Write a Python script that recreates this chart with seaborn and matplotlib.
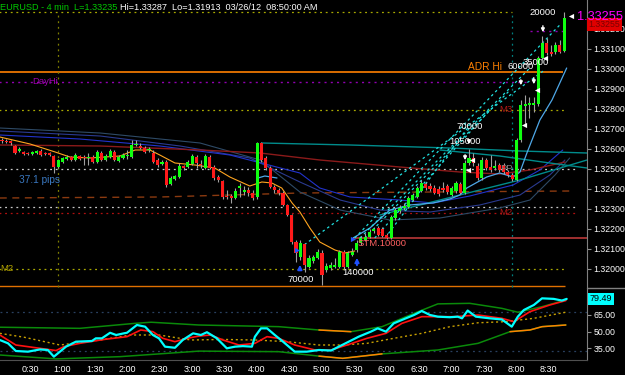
import numpy as np
import pandas as pd
import matplotlib
matplotlib.use("Agg")
import matplotlib.pyplot as plt
import matplotlib.transforms as mtrans
from matplotlib.lines import Line2D
import seaborn as sns

# ---------------- data ----------------
opens = [1.32645,1.32640,1.32640,1.32615,1.32590,1.32585,1.32580,1.32575,1.32580,1.32590,
         1.32580,1.32580,1.32565,1.32510,1.32535,1.32550,1.32560,1.32545,1.32565,1.32560,
         1.32555,1.32560,1.32535,1.32580,1.32545,1.32560,1.32585,1.32540,1.32555,1.32565,
         1.32560,1.32620,1.32615,1.32605,1.32595,1.32580,1.32545,1.32525,1.32535,1.32425,
         1.32450,1.32460,1.32515,1.32510,1.32525,1.32560,1.32525,1.32505,1.32560,1.32510,
         1.32460,1.32440,1.32365,1.32365,1.32355,1.32405,1.32385,1.32395,1.32380,1.32360,
         1.32630,1.32555,1.32505,1.32410,1.32395,1.32380,1.32320,1.32270,1.32135,1.32060,
         1.32125,1.32010,1.32040,1.32055,1.32080,1.31995,1.32005,1.32010,1.32010,1.32085,
         1.32010,1.32070,1.32095,1.32130,1.32145,1.32160,1.32190,1.32205,1.32200,1.32170,
         1.32155,1.32255,1.32290,1.32305,1.32310,1.32345,1.32360,1.32390,1.32425,1.32415,
         1.32405,1.32400,1.32405,1.32415,1.32370,1.32390,1.32425,1.32380,1.32530,1.32555,
         1.32515,1.32455,1.32545,1.32510,1.32505,1.32520,1.32520,1.32485,1.32470,1.32445,
         1.32645,1.32815,1.32820,1.32820,1.32825,1.33055,1.33130,1.33085,1.33085,1.33120,
         1.33090]
highs = [1.32655,1.32650,1.32645,1.32620,1.32610,1.32590,1.32585,1.32590,1.32595,1.32600,
         1.32585,1.32585,1.32570,1.32550,1.32560,1.32570,1.32565,1.32580,1.32570,1.32570,
         1.32580,1.32570,1.32595,1.32590,1.32575,1.32600,1.32595,1.32570,1.32580,1.32595,
         1.32645,1.32645,1.32630,1.32615,1.32610,1.32595,1.32555,1.32545,1.32545,1.32465,
         1.32470,1.32530,1.32520,1.32545,1.32575,1.32570,1.32545,1.32575,1.32570,1.32520,
         1.32470,1.32445,1.32395,1.32375,1.32405,1.32430,1.32415,1.32410,1.32395,1.32635,
         1.32635,1.32565,1.32515,1.32420,1.32405,1.32390,1.32325,1.32275,1.32145,1.32145,
         1.32130,1.32070,1.32070,1.32100,1.32095,1.32030,1.32035,1.32055,1.32095,1.32095,
         1.32090,1.32105,1.32145,1.32165,1.32180,1.32200,1.32210,1.32215,1.32210,1.32180,
         1.32270,1.32305,1.32320,1.32330,1.32365,1.32380,1.32415,1.32445,1.32435,1.32430,
         1.32420,1.32415,1.32435,1.32425,1.32415,1.32440,1.32435,1.32545,1.32600,1.32580,
         1.32530,1.32560,1.32555,1.32570,1.32545,1.32530,1.32530,1.32495,1.32480,1.32655,
         1.32845,1.32870,1.32860,1.32860,1.33065,1.33165,1.33155,1.33120,1.33135,1.33145,
         1.33285]
lows = [1.32630,1.32630,1.32620,1.32575,1.32585,1.32570,1.32570,1.32570,1.32575,1.32565,
        1.32570,1.32565,1.32480,1.32505,1.32530,1.32545,1.32540,1.32540,1.32545,1.32520,
        1.32520,1.32530,1.32530,1.32540,1.32540,1.32555,1.32540,1.32535,1.32550,1.32550,
        1.32555,1.32615,1.32600,1.32580,1.32585,1.32530,1.32510,1.32520,1.32410,1.32420,
        1.32445,1.32455,1.32495,1.32505,1.32520,1.32505,1.32505,1.32500,1.32500,1.32445,
        1.32435,1.32350,1.32350,1.32330,1.32350,1.32360,1.32370,1.32365,1.32345,1.32350,
        1.32535,1.32495,1.32405,1.32380,1.32370,1.32315,1.32265,1.32125,1.32035,1.32045,
        1.31985,1.32005,1.32030,1.32050,1.31920,1.31985,1.31995,1.32005,1.32005,1.32000,
        1.32005,1.32065,1.32085,1.32120,1.32140,1.32155,1.32180,1.32165,1.32160,1.32150,
        1.32150,1.32245,1.32280,1.32295,1.32305,1.32340,1.32355,1.32385,1.32395,1.32390,
        1.32375,1.32365,1.32385,1.32375,1.32365,1.32380,1.32375,1.32375,1.32520,1.32515,
        1.32445,1.32445,1.32495,1.32485,1.32495,1.32485,1.32475,1.32460,1.32440,1.32440,
        1.32635,1.32720,1.32755,1.32785,1.32815,1.33045,1.33070,1.33065,1.33075,1.33080,
        1.33085]
closes = [1.32640,1.32635,1.32630,1.32580,1.32600,1.32575,1.32575,1.32585,1.32590,1.32570,
          1.32575,1.32570,1.32510,1.32545,1.32555,1.32560,1.32545,1.32570,1.32550,1.32555,
          1.32560,1.32535,1.32585,1.32545,1.32565,1.32590,1.32545,1.32560,1.32570,1.32570,
          1.32620,1.32625,1.32605,1.32585,1.32600,1.32535,1.32520,1.32535,1.32420,1.32455,
          1.32465,1.32515,1.32505,1.32535,1.32565,1.32530,1.32520,1.32565,1.32505,1.32455,
          1.32445,1.32360,1.32360,1.32355,1.32390,1.32415,1.32395,1.32380,1.32355,1.32630,
          1.32545,1.32505,1.32410,1.32395,1.32380,1.32320,1.32270,1.32135,1.32080,1.32130,
          1.32020,1.32055,1.32060,1.32085,1.31970,1.32015,1.32020,1.32020,1.32085,1.32010,
          1.32080,1.32085,1.32130,1.32155,1.32160,1.32185,1.32200,1.32170,1.32165,1.32155,
          1.32260,1.32295,1.32305,1.32315,1.32355,1.32370,1.32405,1.32430,1.32405,1.32400,
          1.32380,1.32375,1.32395,1.32385,1.32405,1.32430,1.32380,1.32530,1.32555,1.32530,
          1.32455,1.32545,1.32505,1.32495,1.32515,1.32495,1.32485,1.32470,1.32450,1.32645,
          1.32820,1.32825,1.32830,1.32830,1.33055,1.33130,1.33080,1.33075,1.33120,1.33085,
          1.33255]

time_labels = ["0:30", "1:00", "1:30", "2:00", "2:30", "3:00", "3:30", "4:00", "4:30",
               "5:00", "5:30", "6:00", "6:30", "7:00", "7:30", "8:00", "8:30"]
time_minutes = [30, 60, 90, 120, 150, 180, 210, 240, 270, 300, 330, 360, 390, 420, 450, 480, 510]
first_bar_minute = 4.2
bar_minutes = 4
price_ticks = [1.320, 1.321, 1.322, 1.323, 1.324, 1.325, 1.326, 1.327, 1.328, 1.329, 1.330, 1.331, 1.332]
osc_ticks = [35, 50, 65]
last_price = 1.33255
osc_last = 79.49

# horizontal levels: (price, start bar, end bar)
hi_level = (1.33287, -1, 117.9)
adr_hi = (1.32985, -1, 129.7)
day_hi = (1.32935, -1, 122.1)
day_hi_short = (1.33190, 122.1, 130.6)
m3_level = (1.32795, -1, 130.6)
pp_level = (1.32500, -1, 132.5)
s_level = (1.32310, -1, 132.5)
m2_level = (1.32280, -1, 132.5)
stm_level = (1.32155, 81.2, 136)
low_grid = (1.32000, -1, 130.6)
lo_level = (1.31913, -1, 130.2)
brown_x = [-0.5, 36.5, 68.9, 131.3]
brown_y = [1.32355, 1.32360, 1.32380, 1.32390]
vline_bars = [12.9, 117.9]

# moving averages (bar index, price)
ema_x = [-0.5, 6.5, 12.3, 15.7, 20.3, 27.3, 30.8, 34.2, 36.5, 40.0, 44.6, 49.2, 52.7, 57.3,
         60.1, 62.4, 64.7, 67.1, 68.9, 71.2, 73.5, 77.0, 79.3, 81.6]
ema_y = [1.32660, 1.32625, 1.32585, 1.32560, 1.32555, 1.32565, 1.32595, 1.32595, 1.32570,
         1.32530, 1.32520, 1.32505, 1.32460, 1.32415, 1.32435, 1.32430, 1.32405, 1.32330,
         1.32285, 1.32205, 1.32135, 1.32095, 1.32080, 1.32090]
sky_x = [81.2, 85.1, 89.7, 94.3, 99.7, 103.6, 105.9, 107.5, 112.1, 115.1, 118.2, 119.8,
         121.4, 124.4, 127.2, 130.6]
sky_y = [1.32155, 1.32205, 1.32295, 1.32320, 1.32330, 1.32350, 1.32370, 1.32405, 1.32460,
         1.32480, 1.32460, 1.32485, 1.32580, 1.32745, 1.32845, 1.33005]
sky2_x = [59.2, 60.8, 63.6]
sky2_y = [1.32455, 1.32465, 1.32455]
blue_x = [-0.5, 18.0, 36.5, 52.7, 68.9, 73.5, 80.5, 92.0, 99.7, 108.2, 118.2, 124.4, 129.7]
blue_y = [1.32670, 1.32650, 1.32615, 1.32570, 1.32480, 1.32405, 1.32360, 1.32345, 1.32330,
          1.32365, 1.32420, 1.32495, 1.32595]
navy_x = [-0.5, 22.7, 41.2, 57.3, 68.9, 78.2, 87.4, 99.0, 110.5, 119.8, 126.7, 130.2]
navy_y = [1.32690, 1.32665, 1.32615, 1.32555, 1.32435, 1.32345, 1.32295, 1.32285, 1.32320,
          1.32370, 1.32470, 1.32545]
slate_x = [-0.5, 22.7, 45.8, 59.7, 68.9, 78.2, 89.7, 101.3, 115.1, 122.1, 127.9, 131.3]
slate_y = [1.32705, 1.32680, 1.32630, 1.32545, 1.32385, 1.32295, 1.32245, 1.32255, 1.32305,
           1.32345, 1.32470, 1.32555]
dred_x = [-0.5, 22.7, 45.8, 59.7, 73.5, 92.0, 105.9, 115.1, 122.1, 130.2]
dred_y = [1.32620, 1.32615, 1.32595, 1.32580, 1.32545, 1.32510, 1.32485, 1.32475, 1.32495, 1.32535]
teal1_x = [60.1, 80.5, 103.6, 119.8, 135.3]
teal1_y = [1.32630, 1.32620, 1.32605, 1.32590, 1.32580]
teal2_x = [101.3, 115.1, 126.7, 135.3]
teal2_y = [1.32595, 1.32565, 1.32530, 1.32505]
teal3_x = [87.4, 101.3, 110.5, 119.8, 135.3]
teal3_y = [1.32270, 1.32345, 1.32395, 1.32445, 1.32545]
# dashed fan lines: (x0, x1, y0, y1)
fan_lines = [(68.9, 125.5, 1.32105, 1.32995), (81.6, 129.0, 1.32155, 1.33220),
             (82.8, 122.1, 1.32155, 1.33005), (83.9, 117.5, 1.32155, 1.32895),
             (86.2, 112.8, 1.32155, 1.32795), (88.6, 108.2, 1.32155, 1.32720)]

# oscillator panel
rsi_x = [-0.5, 1.4, 3.2, 6.0, 8.8, 10.6, 12.0, 13.4, 14.8, 17.1, 20.8, 21.7, 23.1, 25.0, 26.4,
         28.2, 28.9, 31.2, 33.1, 34.9, 36.3, 37.7, 40.0, 41.8, 44.2, 46.0, 47.4, 49.7, 52.0,
         53.9, 55.7, 57.8, 58.5, 59.9, 61.3, 63.1, 65.0, 67.7, 70.5, 73.3, 76.1, 77.9, 80.2,
         82.5, 85.3, 86.9, 88.8, 90.6, 93.4, 95.3, 97.1, 99.0, 100.8, 103.6, 105.4, 106.4,
         107.7, 109.6, 112.8, 115.6, 117.9, 119.3, 120.7, 123.0, 124.9, 127.6, 129.5, 130.6]
rsi_y = [42.5, 39.5, 32.6, 32, 34, 33.5, 27.5, 32, 36.5, 41, 41.6, 44, 44, 49, 47, 48.5, 49,
         56, 54.5, 47, 44, 36.5, 35.5, 42.5, 48.5, 47, 49.5, 44, 35, 36.5, 37, 36.5, 45.5, 53,
         53, 47, 41, 32, 32, 33.5, 33, 36.5, 41, 45.5, 50, 53, 50, 57.5, 62, 65, 68.6, 65, 63.5,
         63, 63.5, 62, 69, 63.5, 62, 61, 54.5, 63.5, 69.5, 74, 80, 79.5, 78, 79.49]
sig_x = [-0.5, 3.2, 8.8, 12.5, 14.3, 18.0, 23.6, 28.9, 32.1, 34.9, 37.2, 40.0, 42.8, 45.5,
         48.3, 51.1, 54.8, 58.5, 61.3, 64.0, 67.7, 72.4, 76.1, 79.8, 84.4, 88.8, 92.5, 97.1,
         100.8, 104.5, 110.1, 115.6, 118.4, 122.1, 126.7, 130.4]
sig_y = [47, 38, 35, 33, 36.5, 39.5, 43, 45.5, 51.5, 50, 44, 41, 44, 46, 47, 42.5, 38, 39.5,
         45.5, 44, 38, 33.5, 33.5, 38, 44, 48.5, 57.5, 63.5, 63.5, 63.5, 65, 62, 59, 68, 74, 78]
slow_x = [-0.5, 5.1, 13.4, 22.7, 29.8, 36.3, 43.7, 51.1, 58.5, 65.9, 73.3, 78.8, 84.4, 90.6,
          97.1, 103.6, 110.1, 116.5, 123.0, 130.4]
slow_y = [48.5, 45, 38, 42.5, 47, 47, 42.5, 43, 42.5, 41, 38, 38, 39.5, 44, 48.5, 54.5, 58,
          59, 62, 67.5]
band_up_x = [-0.5, 18.0, 30.8, 34.5, 45.5, 64.0, 73.3, 80.7, 87.9, 95.3, 100.8, 108.2, 115.6,
             119.3, 124.9, 130.4]
band_up_y = [54, 53, 57.5, 58.5, 56, 54.5, 51.5, 50, 54.5, 66.5, 75, 75.5, 71, 67.5, 72.5, 78.5]
band_lo_x = [-0.5, 12.5, 27.3, 45.5, 64.0, 73.3, 78.8, 87.9, 100.8, 110.1, 117.5, 122.1,
             124.9, 130.4]
band_lo_y = [29, 25.5, 27.5, 32.5, 32, 28, 26, 30, 33.5, 39.5, 50, 51.5, 54.5, 56]
osc_levels = [67.7, 32.6]

# ---------------- style ----------------
sns.set_style("dark", {"axes.facecolor": "black", "figure.facecolor": "black",
                       "axes.grid": False})
plt.rcParams["font.family"] = ["Liberation Sans", "DejaVu Sans"]

W, H = 625.0, 375.0
def rect(x0, y0, x1, y1):
    return [x0 / W, 1 - y1 / H, (x1 - x0) / W, (y1 - y0) / H]

fig = plt.figure(figsize=(6.25, 3.75), dpi=100, facecolor="black")
ax = fig.add_axes(rect(0, 0, 587, 289))
ax2 = fig.add_axes(rect(0, 289, 587, 360))
for a in (ax, ax2):
    a.set_facecolor("black")
    a.grid(False)
    for s in ("top", "left", "bottom", "right"):
        a.spines[s].set_visible(False)
    a.spines["right"].set_visible(True)
    a.spines["right"].set_color("#808080")
ax2.spines["bottom"].set_visible(True)
ax2.spines["bottom"].set_color("#505050")

XMIN, XMAX = -0.46, 135.3
ax.set_xlim(XMIN, XMAX)
ax.set_ylim(1.31900, 1.33345)
ax2.set_xlim(XMIN, XMAX)
ax2.set_ylim(24.5, 88.4)

# ---------------- levels ----------------
def level(a, lv, color, ls, lw, z=2):
    a.hlines(lv[0], lv[1], lv[2], colors=color, linestyles=ls, linewidth=lw, zorder=z)

level(ax, hi_level, "#A8A800", (0, (1.5, 3)), 0.9)
level(ax, adr_hi, "#FF8000", "-", 1.2)
level(ax, day_hi, "#9000B0", (0, (1.5, 3)), 1.0)
level(ax, day_hi_short, "#9000B0", (0, (1.5, 3)), 1.0)
level(ax, m3_level, "#A8A800", (0, (1.5, 3)), 0.9)
level(ax, pp_level, "#C8C8C8", (0, (1.5, 3)), 0.9)
level(ax, s_level, "#C8C8C8", (0, (1.5, 3)), 0.9)
level(ax, m2_level, "#B01010", (0, (1.5, 3)), 0.9)
level(ax, stm_level, "#A03030", "-", 1.4)
level(ax, low_grid, "#A8A800", (0, (1.5, 3)), 0.9)
level(ax, lo_level, "#E07000", "-", 1.0)
sns.lineplot(x=brown_x, y=brown_y, ax=ax, color="#8B3A10", linewidth=1.0,
             linestyle=(0, (5, 4)), sort=False, estimator=None, zorder=2)
for vb in vline_bars:
    ax.vlines(vb, 1.31910, hi_level[0], colors="#808000" if vb < 50 else "#008080",
              linestyles=(0, (1.5, 3)), linewidth=0.9, zorder=2)

# ---------------- moving averages ----------------
def mline(xs, ys, color, lw=0.8, ls="-", z=3):
    sns.lineplot(x=xs, y=ys, ax=ax, color=color, linewidth=lw, linestyle=ls,
                 sort=False, estimator=None, zorder=z)

mline(slate_x, slate_y, "#2E4A66")
mline(navy_x, navy_y, "#2A3A90")
mline(blue_x, blue_y, "#2233CC")
mline(dred_x, dred_y, "#8B1A1A", 1.0)
mline(teal1_x, teal1_y, "#008B8B", 1.0)
mline(teal2_x, teal2_y, "#008B8B", 1.0)
mline(teal3_x, teal3_y, "#008B8B", 1.0)
mline(ema_x, ema_y, "#FFA520", 0.8)
mline(sky_x, sky_y, "#4FA8E8", 0.9)
mline(sky2_x, sky2_y, "#4FA8E8", 0.9)
for x0, x1, y0, y1 in fan_lines:
    mline([x0, x1], [y0, y1], "#20E0E0", 0.9, (0, (2, 2.5)))

# ---------------- candles ----------------
df = pd.DataFrame({"i": np.arange(len(opens)), "o": opens, "h": highs, "l": lows, "c": closes})
up = df["c"] >= df["o"]
body_lo = np.minimum(df["o"], df["c"])
body_h = np.maximum((df["c"] - df["o"]).abs(), 0.00004)
ax.vlines(df["i"], df["l"], df["h"], colors="#A0A0A0", linewidth=0.8, zorder=4)
ax.bar(df["i"][up], body_h[up], bottom=body_lo[up], width=0.72, color="#10FF10",
       linewidth=0, zorder=5)
ax.bar(df["i"][~up], body_h[~up], bottom=body_lo[~up], width=0.72, color="#FF1A1A",
       linewidth=0, zorder=5)

# ---------------- annotations ----------------
fs = 6.8
def t(x, y, s, color, size=fs, ha="left"):
    ax.text(x, y, s, color=color, fontsize=size, ha=ha, va="center", zorder=8)

t(6.9, day_hi[0], "DayHi", "#A000B0")
t(107.7, 1.33012, "ADR Hi", "#FF8000", 7.3)
t(3.9, 1.32445, "37.1 pips", "#3A78C0", 7.3)
t(115.1, m3_level[0], "M3", "#B01818")
t(115.1, m2_level[0], "M2", "#B01818")
t(115.3, pp_level[0], "PP", "#808080")
t(-0.4, low_grid[0], "M2", "#B0A000")
t(82.3, 1.32128, "STM.10000", "#FF6060")
t(122.0, 1.33282, "20000", "white")
t(117.0, 1.33012, "60000", "white")
t(120.4, 1.33030, "35000", "white")
t(105.2, 1.32712, "70000", "white")
t(103.5, 1.32637, "105000", "white")
t(66.0, 1.31945, "70000", "white")
t(78.8, 1.31980, "140000", "white")

down_arrows = [(107.1, 1.32585, 1.32530), (108.0, 1.32660, 1.32610), (120.0, 1.32960, 1.32905),
               (123.0, 1.32970, 1.32910), (125.1, 1.33230, 1.33170)]
for x, y0, y1 in down_arrows:
    ax.annotate("", xy=(x, y1), xytext=(x, y0),
                arrowprops=dict(arrowstyle="-|>", color="white", lw=1.0, mutation_scale=5),
                zorder=9)
up_arrows = [(68.9, 1.31980, 1.32035), (82.1, 1.32005, 1.32070)]
for x, y0, y1 in up_arrows:
    ax.annotate("", xy=(x, y1), xytext=(x, y0),
                arrowprops=dict(arrowstyle="-|>", color="#1E50FF", lw=1.4, mutation_scale=6),
                zorder=9)
flags_x = [107.7, 108.7, 120.7, 123.7, 125.5, 131.6]
flags_y = [1.32495, 1.32545, 1.32720, 1.32895, 1.33055, 1.33265]
ax.scatter(flags_x, flags_y, marker="<", s=14, color="white", linewidths=0, zorder=9)
ax.scatter([68.2, 81.2], [1.32095, 1.32150], marker=">", s=14, color="#2050FF",
           linewidths=0, zorder=9)

# ---------------- axes / ticks ----------------
ax.yaxis.tick_right()
ax.set_yticks(price_ticks)
ax.set_yticklabels([f"{p:.5f}" for p in price_ticks], color="white", fontsize=6.3)
ax.tick_params(axis="y", direction="out", length=3, width=0.8, color="#909090", pad=1.5)
ax.set_xticks([])
ax.set_xlabel("")
ax.set_ylabel("")

blend = mtrans.blended_transform_factory(ax.transAxes, ax.transData)
ax.text(1.002, 1.33222, f"{last_price:.5f}", transform=blend, color="#7A0000",
        fontsize=6.3, va="center", ha="left", zorder=10, clip_on=False,
        bbox=dict(facecolor="#E00000", edgecolor="none", pad=1.2))
ax.text(0.983, 1.33262, f"{last_price:.5f}", transform=blend, color="#FF00FF",
        fontsize=9.2, va="center", ha="left", zorder=11, clip_on=False)

# ---------------- oscillator ----------------
for lv in osc_levels:
    ax2.axhline(lv, color="#2A4060", linestyle=(0, (1.5, 3)), linewidth=0.9, zorder=1)

def oline(xs, ys, color, lw, ls="-", z=3):
    sns.lineplot(x=xs, y=ys, ax=ax2, color=color, linewidth=lw, linestyle=ls,
                 sort=False, estimator=None, zorder=z)

oline(band_up_x, band_up_y, "#0A8A0A", 1.1)
oline(band_lo_x, band_lo_y, "#0A8A0A", 1.1)
oline(band_up_x[6:8], band_up_y[6:8], "#FF8000", 1.1, z=4)
oline(band_lo_x[5:8], band_lo_y[5:8], "#FF8000", 1.1, z=4)
oline(band_lo_x[10:], band_lo_y[10:], "#FF8000", 1.1, z=4)
oline(slow_x, slow_y, "#C8A000", 1.0, (0, (1.5, 2)))
oline(sig_x, sig_y, "#FF1010", 1.2, z=5)
oline(rsi_x, rsi_y, "#00FFFF", 1.6, z=6)

ax2.yaxis.tick_right()
ax2.set_yticks(osc_ticks)
ax2.set_yticklabels([f"{v:.2f}" for v in osc_ticks], color="white", fontsize=6.3)
ax2.tick_params(axis="y", direction="out", length=3, width=0.8, color="#909090", pad=1.5)
tick_pos = [(m - first_bar_minute) / bar_minutes for m in time_minutes]
ax2.set_xticks(tick_pos)
ax2.set_xticklabels(time_labels, color="white", fontsize=6.5)
ax2.tick_params(axis="x", direction="out", length=2, color="#707070", pad=1.5)
ax2.set_xlabel("")
ax2.set_ylabel("")
blend2 = mtrans.blended_transform_factory(ax2.transAxes, ax2.transData)
ax2.text(1.004, osc_last, f"{osc_last:.2f}", transform=blend2, color="black", fontsize=6.5,
         va="center", ha="left", clip_on=False, zorder=10,
         bbox=dict(facecolor="#00FFFF", edgecolor="none", pad=1.3))

# separator line on the price scale
fig.add_artist(Line2D([587 / W, 1.0], [1 - 288 / H, 1 - 288 / H], color="#808080", lw=1))

# ---------------- title ----------------
fig.text(0.5 / W, 1 - 7 / H, "EURUSD - 4 min  L=1.33235", color="#00C800", fontsize=6.6,
         va="center", ha="left")
fig.text(120 / W, 1 - 7 / H, "Hi=1.33287  Lo=1.31913  03/26/12  08:50:00 AM", color="white",
         fontsize=6.6, va="center", ha="left")

fig.savefig("out.png", dpi=100, facecolor="black")
